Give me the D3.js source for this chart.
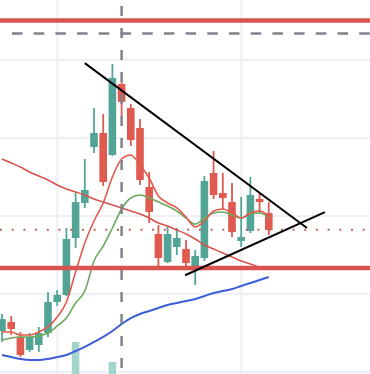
<!DOCTYPE html>
<html>
<head>
<meta charset="utf-8">
<script src="https://cdn.jsdelivr.net/npm/d3@7"></script>
<style>
  html, body { margin: 0; padding: 0; background: #ffffff; }
  svg { display: block; }
</style>
</head>
<body>
<div id="chart"></div>
<script>
// Candle series (price units)
const opens  = [105.26,106.41,104.49,102.82,103.46,105.00,108.97,109.87,117.18,121.67,128.85,130.64,127.82,136.92,133.85,131.28,123.72,117.69,114.10,116.03,115.77,113.33,114.62,125.51,122.95,121.79,116.79,118.08,122.18,120.38];
const highs  = [107.44,107.18,105.13,105.00,105.77,110.26,110.51,118.46,123.08,127.31,133.85,133.08,139.49,137.18,134.36,132.44,125.64,118.85,118.72,118.46,116.92,115.64,125.13,128.33,125.51,124.23,122.44,125.00,122.95,121.79];
const lows   = [103.85,104.74,101.92,102.56,102.56,104.49,108.46,109.74,115.90,121.03,128.08,123.85,127.69,132.69,128.97,123.97,119.10,113.08,113.97,115.00,113.08,111.15,114.23,122.18,120.77,117.31,116.03,117.82,120.38,117.56];
const closes = [106.79,105.51,102.18,104.49,105.00,108.97,109.87,117.05,121.79,123.33,130.64,124.36,137.69,134.62,129.74,124.62,120.51,114.62,117.69,117.18,113.97,114.87,124.49,122.69,122.31,117.95,117.31,122.69,121.79,118.21];
const volumes = [30,28,34,26,25,38,22,44,78,40,36,42,58,40,32,35,30,38,26,20,24,30,42,34,22,30,20,28,18,24];

// Moving averages
const maFast  = [105.13,105.13,104.74,104.74,105.13,105.77,107.05,108.97,112.82,116.54,119.36,121.67,125.00,127.31,127.82,126.54,124.87,122.56,121.67,121.03,119.87,118.59,119.36,120.64,120.90,120.38,119.74,120.38,120.64,120.00];
const maMid   = [104.10,104.36,104.49,104.49,104.62,105.00,105.90,106.92,108.85,110.38,114.23,116.15,118.46,120.90,122.31,122.69,122.31,121.79,121.28,120.64,119.74,118.97,119.74,120.38,120.51,120.13,119.74,120.26,120.38,119.87];
const maSlow  = [127.31,126.79,126.28,125.64,125.13,124.62,123.97,123.46,123.08,122.69,122.18,121.79,121.41,121.03,120.64,120.26,119.74,119.10,118.72,118.21,117.69,117.05,116.28,115.77,115.26,114.74,114.23,113.85,113.46,113.21];
const maLong  = [102.18,101.92,101.67,101.54,101.54,101.67,101.92,102.18,102.69,103.21,103.85,104.49,105.26,106.15,106.92,107.44,107.82,108.21,108.59,108.85,109.10,109.36,109.74,110.13,110.38,110.64,111.03,111.41,111.79,112.18];

// Reference levels and drawings
const gridPrices = [100, 110, 120, 130, 140];
const gridIndices = [6, 26];
const levelLines = [145.06, 113.33];
const dottedLevel = 118.24;
const crosshairPrice = 143.40;
const crosshairIndex = 13;
const trendDown = [[9.0, 139.6], [33.15, 118.46]];
const trendUp   = [[19.9, 112.4], [35.1, 120.5]];

const W = 370, H = 374;
const svg = d3.select("#chart").append("svg").attr("width", W).attr("height", H);

const x = d3.scaleLinear().domain([0, 29]).range([2, 268.8]);
const y = d3.scaleLinear().domain([100, 140]).range([372, 60]);
const yVol = d3.scaleLinear().domain([0, 100]).range([420, 320]);

const UP = "#52a497", DOWN = "#e05a50";
const candles = opens.map((o, i) => ({ i, o, h: highs[i], l: lows[i], c: closes[i], v: volumes[i] }));

// grid
svg.append("g").selectAll("line").data(gridPrices).join("line")
  .attr("x1", 0).attr("x2", W).attr("y1", d => y(d)).attr("y2", d => y(d))
  .attr("stroke", "#eff0f6").attr("stroke-width", 2);
svg.append("g").selectAll("line").data(gridIndices).join("line")
  .attr("y1", 0).attr("y2", H).attr("x1", d => x(d)).attr("x2", d => x(d))
  .attr("stroke", "#eff0f6").attr("stroke-width", 2);

// volume
svg.append("g").selectAll("rect").data(candles).join("rect")
  .attr("x", d => x(d.i) - 3.8).attr("width", 7.6)
  .attr("y", d => yVol(d.v)).attr("height", d => yVol(0) - yVol(d.v))
  .attr("fill", "#a3d5cc");

// candles
const cg = svg.append("g");
cg.selectAll("line").data(candles).join("line")
  .attr("x1", d => x(d.i)).attr("x2", d => x(d.i))
  .attr("y1", d => y(d.h)).attr("y2", d => y(d.l))
  .attr("stroke", d => d.c >= d.o ? UP : DOWN).attr("stroke-width", 1.8);
cg.selectAll("rect").data(candles).join("rect")
  .attr("x", d => x(d.i) - 3.8).attr("width", 7.6)
  .attr("y", d => y(Math.max(d.o, d.c)))
  .attr("height", d => Math.max(1.5, Math.abs(y(d.o) - y(d.c))))
  .attr("fill", d => d.c >= d.o ? UP : DOWN);

// moving averages
const line = d3.line().x((d, i) => x(i)).y(d => y(d)).curve(d3.curveMonotoneX);
const mas = [
  { data: maLong, color: "#3c5fd9", w: 2 },
  { data: maSlow, color: "#d9504c", w: 1.5 },
  { data: maMid,  color: "#6aab5c", w: 1.6 },
  { data: maFast, color: "#e2584b", w: 1.6 }
];
svg.append("g").selectAll("path").data(mas).join("path")
  .attr("d", d => line(d.data)).attr("fill", "none")
  .attr("stroke", d => d.color).attr("stroke-width", d => d.w);

// horizontal levels
svg.append("g").selectAll("line").data(levelLines).join("line")
  .attr("x1", 0).attr("x2", W).attr("y1", d => y(d)).attr("y2", d => y(d))
  .attr("stroke", "#d9534f").attr("stroke-width", 4.5);
svg.append("line")
  .attr("x1", 0).attr("x2", W).attr("y1", y(dottedLevel)).attr("y2", y(dottedLevel))
  .attr("stroke", "#c4634f").attr("stroke-width", 2).attr("stroke-dasharray", "2 9.7");

// trend lines
const tl = d3.line().x(d => x(d[0])).y(d => y(d[1]));
svg.append("g").selectAll("path").data([trendDown, trendUp]).join("path")
  .attr("d", d => tl(d)).attr("fill", "none")
  .attr("stroke", "#000").attr("stroke-width", 2);

// crosshair
svg.append("line")
  .attr("x1", 12).attr("x2", W).attr("y1", y(crosshairPrice)).attr("y2", y(crosshairPrice))
  .attr("stroke", "#7e828b").attr("stroke-width", 2.5).attr("stroke-dasharray", "10.5 11.2");
svg.append("line")
  .attr("x1", x(crosshairIndex)).attr("x2", x(crosshairIndex)).attr("y1", 6).attr("y2", H)
  .attr("stroke", "#7e828b").attr("stroke-width", 2.5).attr("stroke-dasharray", "10 12");
</script>
</body>
</html>
